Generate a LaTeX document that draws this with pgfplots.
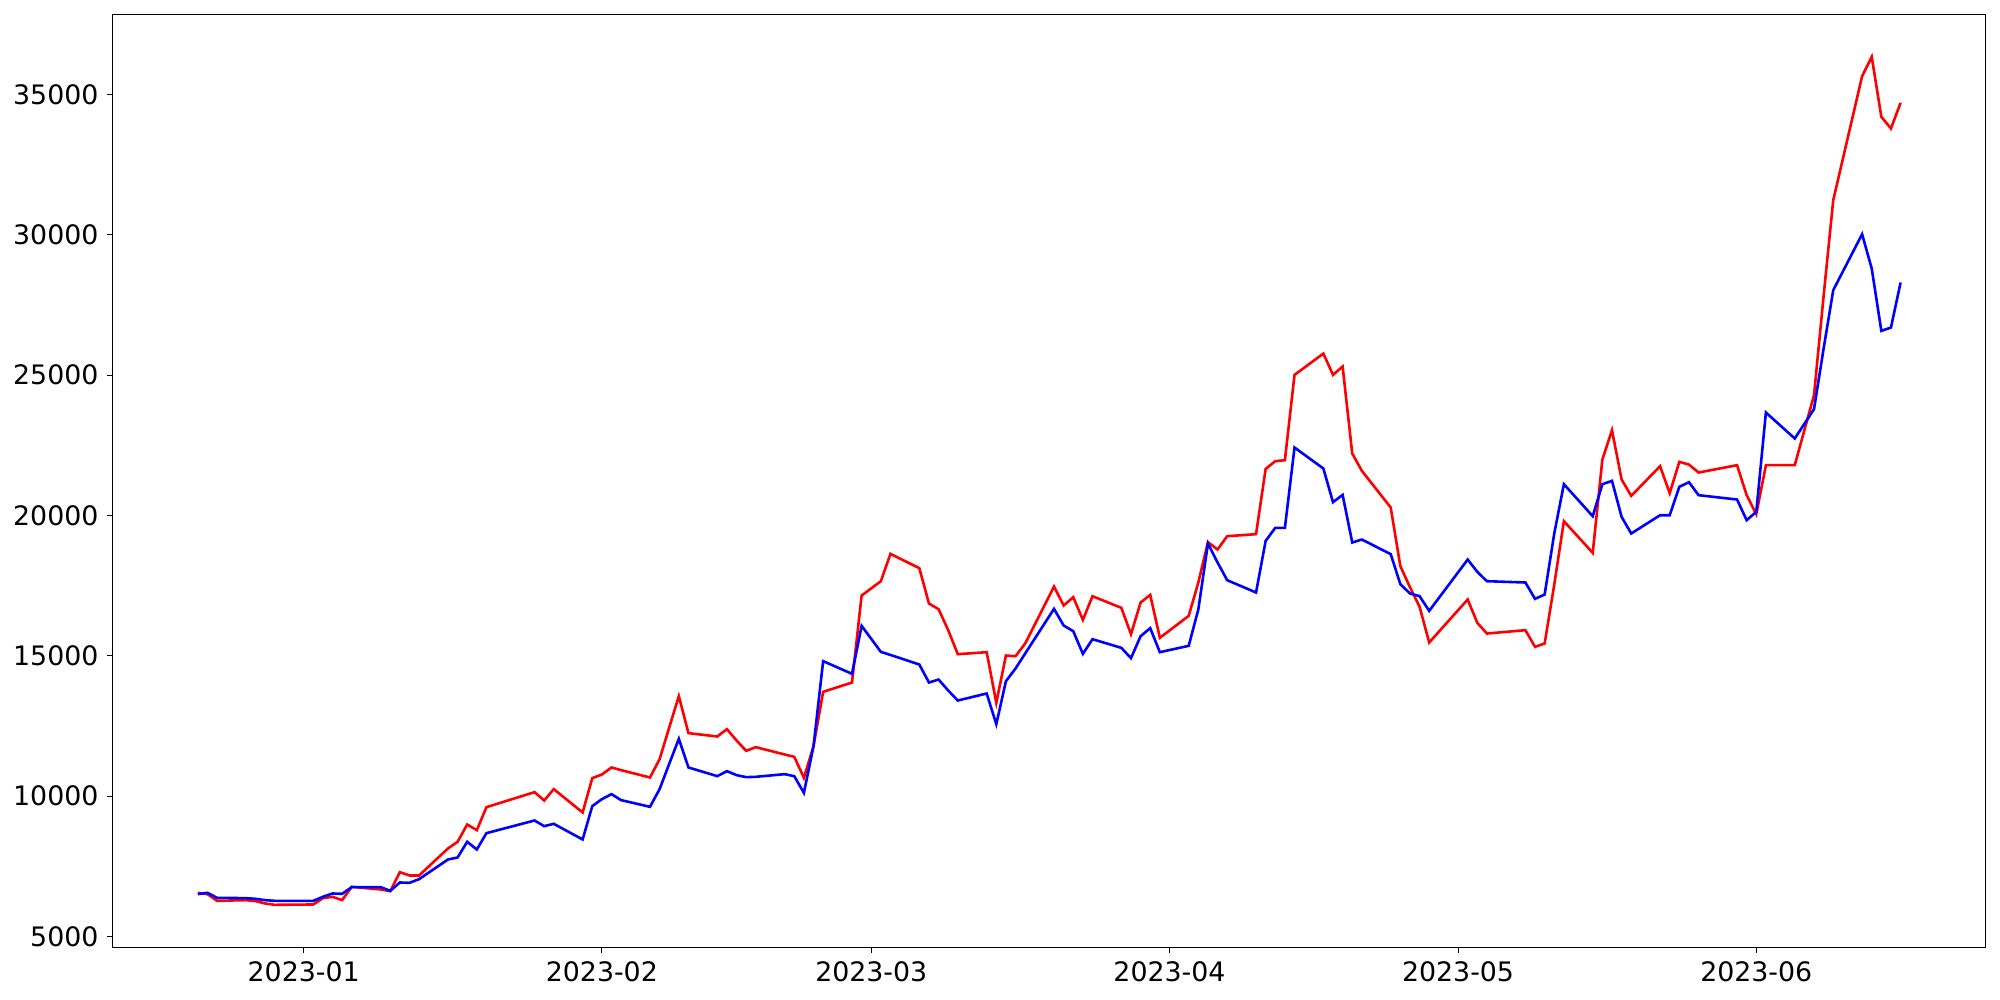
\documentclass[border=0pt]{standalone}
\usepackage{fontspec}
\setmainfont{DejaVu Sans}
\usepackage{pgfplots}
\usepackage{pgfplotstable}
\pgfplotsset{compat=1.18}

% day = days since 2023-01-01, trading days only
\pgfplotstableread{
day red blue
-11 6552 6504
-10 6504 6552
-9 6267 6374
-6 6290 6362
-5 6255 6338
-4 6172 6290
-3 6124 6267
1 6136 6267
2 6362 6409
3 6409 6528
4 6290 6516
5 6766 6754
8 6671 6754
9 6611 6623
10 7288 6920
11 7170 6908
12 7170 7039
15 8132 7740
16 8370 7811
17 8987 8370
18 8785 8096
19 9605 8678
24 10140 9130
25 9843 8928
26 10247 9011
29 9415 8453
30 10639 9641
31 10769 9890
32 11019 10069
33 10924 9855
36 10662 9617
37 11316 10247
38 12444 11150
39 13561 12040
40 12243 11019
43 12124 10710
44 12385 10888
45 11981 10746
46 11613 10674
47 11744 10686
50 11482 10781
51 11399 10710
52 10651 10116
53 11779 11779
54 13716 14809
57 14047 14357
58 17148 16067
60 17659 15140
61 18633 15030
64 18122 14689
65 16863 14047
66 16661 14154
67 15913 13763
68 15057 13406
71 15129 13656
72 13323 12562
73 15010 14095
74 14986 14547
75 15437 15081
78 17469 16673
79 16792 16079
80 17089 15877
81 16281 15069
82 17124 15592
85 16709 15283
86 15770 14915
87 16899 15699
88 17172 15984
89 15640 15129
92 16424 15355
93 17612 16650
94 19049 19002
95 18788 18325
96 19263 17695
99 19335 17255
100 21663 19097
101 21936 19560
102 21972 19560
103 25013 22423
106 25773 21675
107 25013 20475
108 25310 20736
109 22209 19038
110 21592 19144
113 20285 18622
114 18194 17553
115 17445 17220
116 16745 17125
117 15474 16602
121 17006 18431
122 16174 17992
123 15794 17659
127 15913 17612
128 15319 17030
129 15438 17184
130 17540 19358
131 19798 21116
134 18669 19976
135 21995 21116
136 23041 21235
137 21283 19952
138 20700 19358
141 21758 20011
142 20796 20011
143 21912 21022
144 21817 21188
145 21532 20725
149 21794 20570
150 20725 19834
151 20048 20131
152 21794 23671
155 21794 22745
157 24289 23790
158 27829 25952
159 31239 28031
162 35658 30027
163 36347 28803
164 34209 26581
165 33793 26700
166 34708 28304
}\prices

\begin{document}
\begin{tikzpicture}
\path[use as bounding box] (0,0) rectangle (1000pt,500pt);
\begin{axis}[
  at={(56.35pt,26.35pt)}, anchor=south west,
  scale only axis,
  width=936.5pt, height=466.15pt,
  xmin=-19.85, xmax=174.85,
  ymin=4610, ymax=37840,
  xtick={0,31,59,90,120,151},
  xticklabels={2023-01,2023-02,2023-03,2023-04,2023-05,2023-06},
  ytick={5000,10000,15000,20000,25000,30000,35000},
  scaled y ticks=false,
  /pgf/number format/1000 sep={},
  /pgf/number format/assume math mode=true,
  tick align=outside,
  major tick length=2.6pt,
  tick style={black, line width=0.5pt},
  axis line style={line width=0.5pt},
  ticklabel style={font=\fontsize{13.4}{16}\selectfont},
  xtick pos=bottom, ytick pos=left,
  xticklabel style={yshift=-1pt},
  yticklabel style={xshift=-1pt},
]
\addplot[red, line width=1.3pt] table[x=day, y=red] {\prices};
\addplot[blue, line width=1.3pt] table[x=day, y=blue] {\prices};
\end{axis}
\end{tikzpicture}
\end{document}
